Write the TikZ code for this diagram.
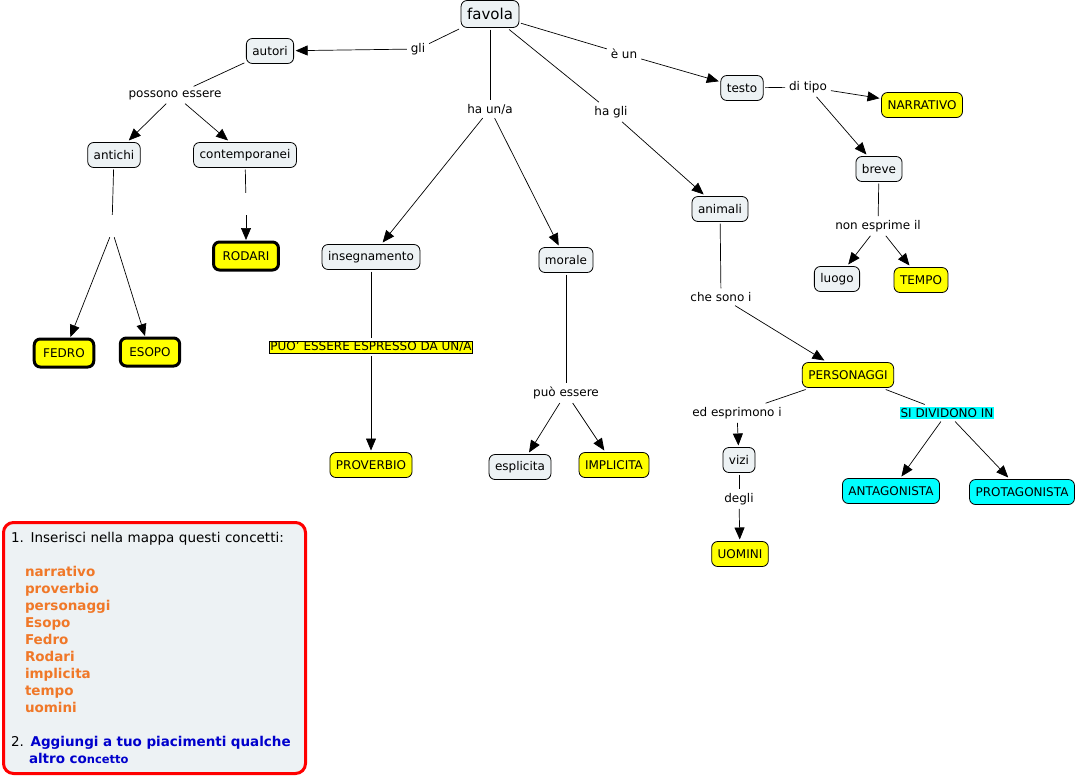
\documentclass[tikz,border=0pt]{standalone}
\usepackage{fontspec}
\setmainfont{DejaVu Sans}
\usetikzlibrary{arrows.meta}
\definecolor{cmapfill}{HTML}{EDF2F4}
\definecolor{cmapyellow}{HTML}{FFFF00}
\definecolor{cmapcyan}{HTML}{00FFFF}
\definecolor{cmaporange}{HTML}{F07828}
\definecolor{cmapblue}{HTML}{0000CC}
\definecolor{cmapred}{HTML}{FF0000}

\begin{document}
\begin{tikzpicture}[
    x=1pt, y=-1pt,
    concept/.style={draw=black, line width=0.8pt, rounded corners=6pt, fill=cmapfill,
        minimum height=25pt, inner xsep=6pt, outer sep=2pt, font=\fontsize{12}{14}\selectfont},
    yellowbox/.style={concept, fill=cmapyellow},
    cyanbox/.style={concept, fill=cmapcyan},
    heavybox/.style={yellowbox, line width=3pt, minimum height=28pt, inner xsep=9pt},
    linkword/.style={font=\fontsize{12}{14}\selectfont, inner sep=1pt, outer sep=3pt},
    gapword/.style={inner sep=0pt, minimum width=4pt, minimum height=22pt},
    linkline/.style={line width=0.7pt},
    linkarr/.style={line width=0.7pt, -{Triangle[length=12pt,width=10pt]}}
]
    \useasboundingbox (0,0) rectangle (1081,777);

    % --- CONCETTI ---
    \node[concept, minimum height=27pt, font=\fontsize{15}{17}\selectfont] (favola) at (490,14) {favola};
    \node[concept] (autori) at (270,51) {autori};
    \node[concept] (antichi) at (114,155) {antichi};
    \node[concept] (contemporanei) at (245,155) {contemporanei};
    \node[heavybox] (rodari) at (246,256) {RODARI};
    \node[heavybox] (fedro) at (64,353) {FEDRO};
    \node[heavybox] (esopo) at (150,352) {ESOPO};
    \node[concept] (insegnamento) at (371,257) {insegnamento};
    \node[yellowbox] (proverbio) at (371,465) {PROVERBIO};
    \node[concept] (morale) at (566,260) {morale};
    \node[concept] (esplicita) at (520,467) {esplicita};
    \node[yellowbox] (implicita) at (614,465) {IMPLICITA};
    \node[concept] (testo) at (742,88) {testo};
    \node[yellowbox] (narrativo) at (922,105) {NARRATIVO};
    \node[concept] (breve) at (879,169) {breve};
    \node[concept] (luogo) at (837,279) {luogo};
    \node[yellowbox] (tempo) at (921,280) {TEMPO};
    \node[concept] (animali) at (720,209) {animali};
    \node[yellowbox] (personaggi) at (848,375) {PERSONAGGI};
    \node[concept] (vizi) at (739,460) {vizi};
    \node[yellowbox] (uomini) at (740,554) {UOMINI};
    \node[cyanbox] (antagonista) at (891,491) {ANTAGONISTA};
    \node[cyanbox] (protagonista) at (1022,492) {PROTAGONISTA};

    % --- PAROLE DI COLLEGAMENTO ---
    \node[linkword] (gli) at (418,49) {gli};
    \node[linkword] (possono) at (175,95) {possono essere};
    \node[gapword] (antichigap) at (112,226) {};
    \node[gapword] (contgap) at (246,204) {};
    \node[linkword] (haun) at (490,109) {ha un/a};
    \node[linkword, fill=cmapyellow, draw=black, line width=0.5pt] (puoespresso) at (371,347) {PUO' ESSERE ESPRESSO DA UN/A};
    \node[linkword] (puoessere) at (566,393) {può essere};
    \node[linkword] (eun) at (624,54) {è un};
    \node[linkword] (ditipo) at (808,87) {di tipo};
    \node[linkword] (nonesprime) at (878,226) {non esprime il};
    \node[linkword] (hagli) at (611,112) {ha gli};
    \node[linkword] (chesono) at (721,297) {che sono i};
    \node[linkword] (edesprimono) at (737,413) {ed esprimono i};
    \node[linkword, fill=cmapcyan] (sidividono) at (947,413) {SI DIVIDONO IN};
    \node[linkword] (degli) at (739,499) {degli};

    % --- COLLEGAMENTI ---
    \draw[linkline] (favola) -- (gli);
    \draw[linkarr] (gli) -- (autori);
    \draw[linkline] (autori) -- (possono);
    \draw[linkarr] (possono) -- (antichi);
    \draw[linkarr] (possono) -- (contemporanei);
    \draw[linkline] (antichi) -- (antichigap);
    \draw[linkarr] (antichigap.south west) -- (fedro);
    \draw[linkarr] (antichigap.south east) -- (esopo);
    \draw[linkline] (contemporanei) -- (contgap);
    \draw[linkarr] (contgap) -- (rodari);

    \draw[linkline] (favola) -- (haun);
    \draw[linkarr] (haun) -- (insegnamento);
    \draw[linkarr] (haun) -- (morale);
    \draw[linkline] (insegnamento) -- (puoespresso);
    \draw[linkarr] (puoespresso) -- (proverbio);
    \draw[linkline] (morale) -- (puoessere);
    \draw[linkarr] (puoessere) -- (esplicita);
    \draw[linkarr] (puoessere) -- (implicita);

    \draw[linkline] (favola) -- (eun);
    \draw[linkarr] (eun) -- (testo);
    \draw[linkline] (testo) -- (ditipo);
    \draw[linkarr] (ditipo) -- (narrativo);
    \draw[linkarr] (ditipo) -- (breve);
    \draw[linkline] (breve) -- (nonesprime);
    \draw[linkarr] (nonesprime) -- (luogo);
    \draw[linkarr] (nonesprime) -- (tempo);

    \draw[linkline] (favola) -- (hagli);
    \draw[linkarr] (hagli) -- (animali);
    \draw[linkline] (animali) -- (chesono);
    \draw[linkarr] (chesono) -- (personaggi);
    \draw[linkline] (personaggi) -- (edesprimono);
    \draw[linkarr] (edesprimono) -- (vizi);
    \draw[linkline] (vizi) -- (degli);
    \draw[linkarr] (degli) -- (uomini);
    \draw[linkline] (personaggi) -- (sidividono);
    \draw[linkarr] (sidividono) -- (antagonista);
    \draw[linkarr] (sidividono) -- (protagonista);

    % --- ISTRUZIONI ---
    \node[draw=cmapred, line width=3pt, rounded corners=10pt, fill=cmapfill,
        minimum width=302pt, minimum height=251pt, text width=287pt, inner xsep=7.5pt,
        align=left, font=\fontsize{13.5}{17}\selectfont] (istruzioni) at (154.5,648) {
        1. Inserisci nella mappa questi concetti:\\[17pt]
        \hspace*{14pt}{\color{cmaporange}\bfseries narrativo}\\
        \hspace*{14pt}{\color{cmaporange}\bfseries proverbio}\\
        \hspace*{14pt}{\color{cmaporange}\bfseries personaggi}\\
        \hspace*{14pt}{\color{cmaporange}\bfseries Esopo}\\
        \hspace*{14pt}{\color{cmaporange}\bfseries Fedro}\\
        \hspace*{14pt}{\color{cmaporange}\bfseries Rodari}\\
        \hspace*{14pt}{\color{cmaporange}\bfseries implicita}\\
        \hspace*{14pt}{\color{cmaporange}\bfseries tempo}\\
        \hspace*{14pt}{\color{cmaporange}\bfseries uomini}\\[17pt]
        2. {\color{cmapblue}\bfseries Aggiungi a tuo piacimenti qualche}\\
        \hspace*{18pt}{\color{cmapblue}\bfseries altro co{\fontsize{11.5}{17}\selectfont ncetto}}
    };

\end{tikzpicture}
\end{document}
